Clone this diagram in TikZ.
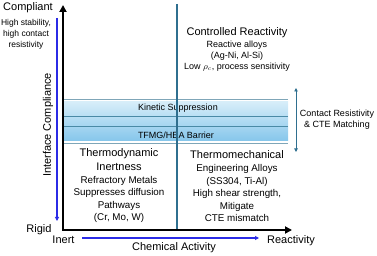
\documentclass[tikz,border=0pt]{standalone}
\usepackage{fontspec}
\setmainfont{Liberation Sans}
\usetikzlibrary{arrows.meta}
\definecolor{tealline}{HTML}{2F6F8F}
\definecolor{bandline}{HTML}{7FA6B8}
\definecolor{bandmid}{HTML}{4A8AA6}
\definecolor{bandtop}{HTML}{D6EDF9}
\definecolor{bandbot}{HTML}{86C6EB}
\definecolor{arrowblue}{HTML}{2B2BE6}

\begin{document}
\begin{tikzpicture}[x=1pt, y=-1pt, inner sep=0pt,
  axislabel/.style={font=\fontsize{11}{13}\selectfont},
  heading/.style={font=\fontsize{11}{14}\selectfont, align=center},
  detail/.style={font=\fontsize{9.8}{12.5}\selectfont, align=center},
  note/.style={font=\fontsize{8.5}{11}\selectfont, align=center},
  bandtext/.style={font=\fontsize{9}{11}\selectfont},
  blueaxis/.style={arrowblue, line width=1.3pt, -{Triangle[length=4pt,width=4pt]}}]
  \useasboundingbox (0,0) rectangle (377,256);

  % band across both columns
  \shade[top color=bandtop, bottom color=bandbot] (63,102) rectangle (288,141);
  \foreach \y in {99,143}
    \draw[bandline, line width=0.8pt] (63,\y) -- (288,\y);
  \foreach \y in {116,126}
    \draw[bandmid, line width=0.8pt] (63,\y) -- (288,\y);
  \node[bandtext] (kinetic) at (178,108) {Kinetic Suppression};
  \node[bandtext] (barrier) at (176,135) {TFMG/HEA Barrier};

  % column divider
  \coordinate (divtop) at (177,4);
  \coordinate (divbot) at (177,230);
  \draw[tealline, line width=1.1pt] (divtop) -- (divbot);

  % axes
  \coordinate (ytop) at (63,5);
  \coordinate (origin) at (63,230);
  \coordinate (xend) at (292,230);
  \draw[line width=2pt, {Triangle[length=7pt,width=7pt]}-{Triangle[length=7pt,width=7pt]}] (ytop) -- (origin) -- (xend);
  \coordinate (bvtop) at (57,18);
  \coordinate (bvbot) at (57,221);
  \draw[blueaxis] (bvtop) -- (bvbot);
  \coordinate (bhleft) at (82,238);
  \coordinate (bhright) at (259,238);
  \draw[blueaxis] (bhleft) -- (bhright);

  \node[axislabel] (compliant) at (28,8) {Compliant};
  \node[axislabel] (rigid) at (39,230) {Rigid};
  \node[axislabel] (inert) at (63.5,240) {Inert};
  \node[axislabel] (reactivity) at (291,241) {Reactivity};
  \node[axislabel] (chemact) at (174,248) {Chemical Activity};
  \node[axislabel, rotate=90] (ifcomp) at (48,125) {Interface Compliance};
  \node[note] (stability) at (26,34) {High stability,\\high contact\\resistivity};

  % contact resistivity arrow
  \coordinate (crtop) at (296,88);
  \coordinate (crbot) at (296,152);
  \draw[tealline, line width=0.9pt, {Triangle[length=3.5pt,width=3.5pt]}-{Triangle[length=3.5pt,width=3.5pt]}] (crtop) -- (crbot);
  \node[note, font=\fontsize{9}{11}\selectfont] (crlabel) at (337,119.5) {Contact Resistivity\\\& CTE Matching};

  % quadrants
  \node[heading] (reactive) at (237,33) {Controlled Reactivity};
  \node[note, font=\fontsize{9}{11}\selectfont] (reactivetxt) at (237,56) {Reactive alloys\\(Ag-Ni, Al-Si)\\Low $\rho_c$, process sensitivity};
  \node[heading] (inertness) at (119,160) {Thermodynamic\\Inertness};
  \node[detail] (inerttxt) at (119,199.5) {Refractory Metals\\Suppresses diffusion\\Pathways\\(Cr, Mo, W)};
  \node[heading] (thermomech) at (237,155) {Thermomechanical};
  \node[detail] (thermotxt) at (237,193) {Engineering Alloys\\(SS304, Ti-Al)\\High shear strength,\\Mitigate\\CTE mismatch};
\end{tikzpicture}
\end{document}
